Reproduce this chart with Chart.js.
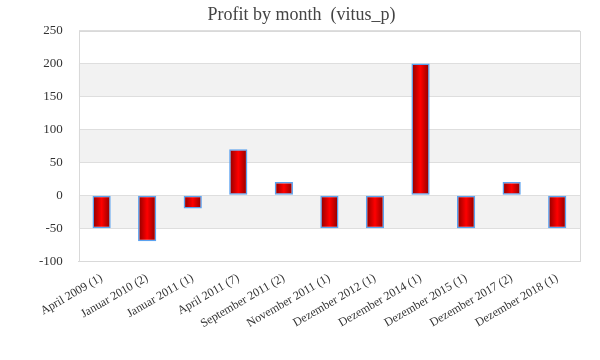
<!DOCTYPE html>
<html><head><meta charset="utf-8">
<script src="https://cdn.jsdelivr.net/npm/chart.js@4/dist/chart.umd.min.js"></script>
<style>html,body{margin:0;padding:0;background:#fff}#wrap{width:600px;height:360px}</style>
</head><body><div id="wrap"><canvas id="c" width="600" height="360"></canvas></div>
<script>
const categories = ["April 2009 (1)","Januar 2010 (2)","Januar 2011 (1)","April 2011 (7)","September 2011 (2)","November 2011 (1)","Dezember 2012 (1)","Dezember 2014 (1)","Dezember 2015 (1)","Dezember 2017 (2)","Dezember 2018 (1)"];
const profit = [-50,-70,-20,70,20,-50,-50,200,-50,20,-50];
const yMin = -100, yMax = 250, yStep = 50;
const FONT = "'Liberation Serif', 'DejaVu Serif', serif";

const bandsPlugin = {
  id:'bands',
  beforeDraw(chart){
    const {ctx, chartArea:a, scales:{y}} = chart;
    ctx.save();
    ctx.fillStyle = '#fff';
    ctx.fillRect(a.left,a.top,a.right-a.left,a.bottom-a.top);
    ctx.fillStyle = '#f2f2f2';
    for (let v = yMax; v > yMin; v -= yStep){
      const i = Math.round((yMax - v)/yStep);
      if (i % 2 === 1){
        const t = y.getPixelForValue(v), b = y.getPixelForValue(v - yStep);
        ctx.fillRect(a.left, t, a.right-a.left, b-t);
      }
    }
    ctx.restore();
  },
  afterDatasetsDraw(chart){
    const {ctx, chartArea:a} = chart;
    ctx.save();
    ctx.strokeStyle = '#d9d9d9'; ctx.lineWidth = 1;
    ctx.strokeRect(Math.round(a.left)+0.5, Math.round(a.top)+0.5, Math.round(a.right-a.left), Math.round(a.bottom-a.top));
    ctx.restore();
  }
};

function barGradient(context){
  const chart = context.chart;
  const x = chart.scales.x;
  if (!x || !chart.chartArea) return '#d00000';
  const cx = x.getPixelForValue(context.dataIndex);
  const half = 9;
  const g = chart.ctx.createLinearGradient(cx-half,0,cx+half,0);
  g.addColorStop(0,'#8a0000');
  g.addColorStop(0.5,'#ff0000');
  g.addColorStop(1,'#8a0000');
  return g;
}

new Chart(document.getElementById('c'), {
  type:'bar',
  data:{ labels: categories, datasets:[{ label:'Profit', data: profit, backgroundColor: barGradient, borderColor:'#5aa2f0', borderWidth:1.5, borderSkipped:false, barPercentage:0.4, categoryPercentage:1 }]},
  options:{
    responsive:false, animation:false,
    layout:{ padding:{ left:23, right:20, top:0, bottom:27 } },
    plugins:{
      legend:{display:false}, tooltip:{enabled:false},
      title:{ display:true, text:'Profit by month  (vitus_p)', color:'#444', font:{family:FONT, size:18, weight:'normal'}, padding:{top:4,bottom:5} }
    },
    scales:{
      x:{ grid:{display:false}, border:{color:'#d9d9d9'},
          ticks:{ color:'#333', font:{family:FONT, size:12}, minRotation:30, maxRotation:30, autoSkip:false, padding:2 } },
      y:{ min:yMin, max:yMax, grid:{color:'#dedede', drawTicks:false}, border:{display:false},
          ticks:{ stepSize:yStep, color:'#333', font:{family:FONT, size:13}, padding:16 } }
    }
  },
  plugins:[bandsPlugin]
});
</script></body></html>
